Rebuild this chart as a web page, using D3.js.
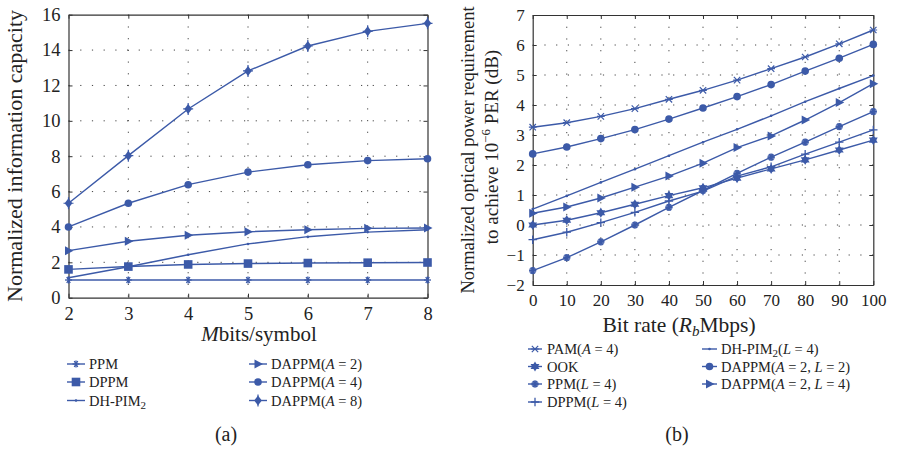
<!DOCTYPE html>
<html>
<head>
<meta charset="utf-8">
<script src="https://cdn.jsdelivr.net/npm/d3@7"></script>
<style>
  html, body { margin: 0; padding: 0; background: #fff; }
  svg { display: block; font-family: "Liberation Serif", "DejaVu Serif", serif; }
  .tick text { fill: #222; }
</style>
</head>
<body>
<svg id="chart" width="897" height="449"></svg>
<script>
// ---- (a) Normalized information capacity vs bits per symbol ----
const mBits = [2, 3, 4, 5, 6, 7, 8];
const capPPM    = [1, 1, 1, 1, 1, 1, 1];
const capDPPM   = [1.6, 1.76, 1.88, 1.93, 1.96, 1.98, 1.99];
const capDHPIM  = [1.13, 1.75, 2.43, 3.04, 3.45, 3.71, 3.84];
const capDAPPM2 = [2.66, 3.19, 3.53, 3.73, 3.84, 3.92, 3.94];
const capDAPPM4 = [4.0, 5.34, 6.39, 7.1, 7.52, 7.75, 7.86];
const capDAPPM8 = [5.34, 8.03, 10.67, 12.82, 14.23, 15.06, 15.51];
const capTicksX = [2, 3, 4, 5, 6, 7, 8];
const capTicksY = [0, 2, 4, 6, 8, 10, 12, 14, 16];

// ---- (b) Normalized optical power requirement vs bit rate ----
const bitRate = [0, 10, 20, 30, 40, 50, 60, 70, 80, 90, 100];
const pwrPAM     = [3.26, 3.41, 3.62, 3.88, 4.19, 4.49, 4.83, 5.21, 5.6, 6.04, 6.5];
const pwrOOK     = [0, 0.16, 0.41, 0.69, 0.98, 1.24, 1.56, 1.87, 2.17, 2.5, 2.83];
const pwrPPM     = [-1.52, -1.09, -0.56, 0, 0.59, 1.15, 1.72, 2.26, 2.76, 3.28, 3.78];
const pwrDPPM    = [-0.49, -0.24, 0.08, 0.42, 0.8, 1.13, 1.63, 1.94, 2.36, 2.76, 3.17];
const pwrDHPIM   = [0.53, 0.97, 1.42, 1.86, 2.31, 2.76, 3.19, 3.64, 4.11, 4.55, 4.98];
const pwrDAPPM22 = [2.37, 2.6, 2.88, 3.18, 3.53, 3.9, 4.28, 4.68, 5.13, 5.56, 6.02];
const pwrDAPPM24 = [0.39, 0.6, 0.9, 1.26, 1.63, 2.06, 2.58, 2.97, 3.5, 4.08, 4.71];
const pwrTicksX = [0, 10, 20, 30, 40, 50, 60, 70, 80, 90, 100];
const pwrTicksY = [-2, -1, 0, 1, 2, 3, 4, 5, 6, 7];

const BLUE = "#3c5aa8";
const svg = d3.select("#chart");

// Marker painters: each draws a glyph centred at (0,0) inside group g
const markers = {
  asterisk(g) {
    const r = 3.5;
    [0, 60, 120].forEach(a => {
      const t = a * Math.PI / 180;
      g.append("line").attr("x1", -r * Math.cos(t)).attr("y1", -r * Math.sin(t))
        .attr("x2", r * Math.cos(t)).attr("y2", r * Math.sin(t))
        .attr("stroke", BLUE).attr("stroke-width", 1.3);
    });
    g.append("line").attr("x1", 0).attr("y1", -r).attr("x2", 0).attr("y2", r)
      .attr("stroke", BLUE).attr("stroke-width", 1.3);
  },
  cross(g) {
    const r = 3.2;
    g.append("path").attr("d", `M${-r},${-r}L${r},${r}M${-r},${r}L${r},${-r}M${-r*1.2},0L${r*1.2},0`)
      .attr("stroke", BLUE).attr("stroke-width", 1.2).attr("fill", "none");
  },
  plus(g) {
    const r = 4.2;
    g.append("path").attr("d", `M${-r},0L${r},0M0,${-r}L0,${r}`)
      .attr("stroke", BLUE).attr("stroke-width", 1.3).attr("fill", "none");
  },
  dot(g) {
    g.append("circle").attr("r", 1.3).attr("fill", BLUE);
  },
  square(g) {
    g.append("rect").attr("x", -4.3).attr("y", -4.3).attr("width", 8.6).attr("height", 8.6).attr("fill", BLUE);
  },
  circle(g) {
    g.append("circle").attr("r", 3.8).attr("fill", BLUE);
  },
  triangle(g) {
    g.append("path").attr("d", "M5,0L-3.5,-4.5L-3.5,4.5Z").attr("fill", BLUE);
  },
  diamond(g) {
    g.append("path").attr("d", "M0,-5L3.8,0L0,5L-3.8,0Z").attr("fill", BLUE);
    g.append("path").attr("d", "M-5,0L5,0M0,-6L0,6").attr("stroke", BLUE).attr("stroke-width", 1.2);
  },
  star(g) {
    const p = d3.symbol(d3.symbolTriangle, 34)();
    g.append("path").attr("d", p).attr("fill", BLUE);
    g.append("path").attr("d", p).attr("fill", BLUE).attr("transform", "rotate(180)");
    g.append("circle").attr("r", 2.8).attr("fill", BLUE);
  },
  ringStar(g) {
    g.append("circle").attr("r", 3.6).attr("fill", BLUE).attr("opacity", 0.75);
    markers.asterisk(g);
  }
};

function panel(opts) {
  const { x0, x1, y0, y1, xDomain, yDomain, xTicks, yTicks, series, xs, fontTick } = opts;
  const x = d3.scaleLinear().domain(xDomain).range([x0, x1]);
  const y = d3.scaleLinear().domain(yDomain).range([y1, y0]);
  const g = svg.append("g");
  const fmt = d3.format("d");

  // dotted grid
  g.append("g").selectAll("line.vg").data(xTicks.slice(1, -1)).join("line")
    .attr("x1", d => x(d)).attr("x2", d => x(d)).attr("y1", y0).attr("y2", y1)
    .attr("stroke", "#444").attr("stroke-width", 1).attr("stroke-dasharray", "1.2,10.5");
  g.append("g").selectAll("line.hg").data(yTicks.slice(1, -1)).join("line")
    .attr("x1", x0).attr("x2", x1).attr("y1", d => y(d)).attr("y2", d => y(d))
    .attr("stroke", "#444").attr("stroke-width", 1).attr("stroke-dasharray", "1.2,10.5");

  // axes with inward ticks on all four sides
  const axB = g.append("g").attr("transform", `translate(0,${y1})`)
    .call(d3.axisBottom(x).tickValues(xTicks).tickFormat(fmt).tickSize(-4).tickPadding(9).tickSizeOuter(0));
  const axT = g.append("g").attr("transform", `translate(0,${y0})`)
    .call(d3.axisTop(x).tickValues(xTicks).tickSize(-4).tickFormat("").tickSizeOuter(0));
  const axL = g.append("g").attr("transform", `translate(${x0},0)`)
    .call(d3.axisLeft(y).tickValues(yTicks).tickFormat(fmt).tickSize(-4).tickPadding(8).tickSizeOuter(0));
  const axR = g.append("g").attr("transform", `translate(${x1},0)`)
    .call(d3.axisRight(y).tickValues(yTicks).tickSize(-4).tickFormat("").tickSizeOuter(0));
  [axB, axT, axL, axR].forEach(a => {
    a.select(".domain").attr("stroke", "#333").attr("stroke-width", 1.2);
    a.selectAll(".tick line").attr("stroke", "#333");
    a.selectAll(".tick text").attr("font-size", fontTick)
      .attr("font-family", "Liberation Serif, serif").attr("fill", "#222");
  });

  // series
  const line = d3.line().x(d => x(d[0])).y(d => y(d[1]));
  series.forEach(s => {
    const pts = xs.map((v, i) => [v, s.values[i]]);
    g.append("path").datum(pts).attr("d", line)
      .attr("fill", "none").attr("stroke", BLUE).attr("stroke-width", 1.4);
    pts.forEach(p => {
      const mg = g.append("g").attr("transform", `translate(${x(p[0])},${y(p[1])})`);
      markers[s.marker](mg);
    });
  });
  return { x, y };
}

// Panel (a)
const seriesA = [
  { name: "PPM", values: capPPM, marker: "asterisk" },
  { name: "DPPM", values: capDPPM, marker: "square" },
  { name: "DH-PIM", sub: "2", values: capDHPIM, marker: "dot" },
  { name: "DAPPM(", it: "A", rest: " =  2)", values: capDAPPM2, marker: "triangle" },
  { name: "DAPPM(", it: "A", rest: " =  4)", values: capDAPPM4, marker: "circle" },
  { name: "DAPPM(", it: "A", rest: " =  8)", values: capDAPPM8, marker: "diamond" }
];
panel({
  x0: 68.5, x1: 427.5, y0: 14.7, y1: 297.7,
  xDomain: [2, 8], yDomain: [0, 16], xTicks: capTicksX, yTicks: capTicksY,
  series: seriesA, xs: mBits, fontTick: 18.5
});

// Panel (b)
const seriesB = [
  { name: "PAM(", it: "A", rest: " =  4)", values: pwrPAM, marker: "cross" },
  { name: "OOK", values: pwrOOK, marker: "star" },
  { name: "PPM(", it: "L", rest: " =  4)", values: pwrPPM, marker: "ringStar" },
  { name: "DPPM(", it: "L", rest: " =  4)", values: pwrDPPM, marker: "plus" },
  { name: "DH-PIM", sub: "2", tail: "(", it: "L", rest: " =  4)", values: pwrDHPIM, marker: "dot" },
  { name: "DAPPM(", it: "A", rest: " =  2, ", it2: "L", rest2: " =  2)", values: pwrDAPPM22, marker: "circle" },
  { name: "DAPPM(", it: "A", rest: " =  2, ", it2: "L", rest2: " =  4)", values: pwrDAPPM24, marker: "triangle" }
];
panel({
  x0: 532.7, x1: 873.3, y0: 15, y1: 285,
  xDomain: [0, 100], yDomain: [-2, 7], xTicks: pwrTicksX, yTicks: pwrTicksY,
  series: seriesB, xs: bitRate, fontTick: 17
});

// axis titles
svg.append("text").attr("transform", "translate(22,156) rotate(-90)")
  .attr("text-anchor", "middle").attr("font-size", 22).attr("fill", "#222")
  .text("Normalized information capacity");
const xa = svg.append("text").attr("x", 259).attr("y", 341).attr("text-anchor", "middle")
  .attr("font-size", 21).attr("fill", "#222");
xa.append("tspan").attr("font-style", "italic").text("M");
xa.append("tspan").text("bits/symbol");

svg.append("text").attr("transform", "translate(474,150) rotate(-90)")
  .attr("text-anchor", "middle").attr("font-size", 18.5).attr("fill", "#222")
  .text("Normalized optical power requirement");
const yb2 = svg.append("text").attr("transform", "translate(498,147) rotate(-90)")
  .attr("text-anchor", "middle").attr("font-size", 19).attr("fill", "#222");
yb2.append("tspan").text("to achieve 10");
yb2.append("tspan").attr("font-size", 13).attr("dy", -8).text("\u22126");
yb2.append("tspan").attr("dy", 8).text(" PER (dB)");

const xb = svg.append("text").attr("x", 679).attr("y", 332).attr("text-anchor", "middle")
  .attr("font-size", 21.5).attr("fill", "#222");
xb.append("tspan").text("Bit rate (");
xb.append("tspan").attr("font-style", "italic").text("R");
xb.append("tspan").attr("font-style", "italic").attr("font-size", 15).attr("dy", 4).text("b");
xb.append("tspan").attr("dy", -4).text("Mbps)");

// legends
function legendEntry(s, lx, ly, lineLen, textGap) {
  const g = svg.append("g");
  g.append("line").attr("x1", lx).attr("x2", lx + lineLen).attr("y1", ly).attr("y2", ly)
    .attr("stroke", BLUE).attr("stroke-width", 1.4);
  const mg = g.append("g").attr("transform", `translate(${lx + lineLen / 2},${ly})`);
  markers[s.marker](mg);
  const t = g.append("text").attr("x", lx + lineLen + textGap).attr("y", ly + 5)
    .attr("font-size", 14.5).attr("fill", "#222");
  t.append("tspan").text(s.name);
  if (s.sub) {
    t.append("tspan").attr("font-size", 11).attr("dy", 3).text(s.sub);
    t.append("tspan").attr("dy", -3).text(s.tail || "");
  }
  if (s.it) {
    t.append("tspan").attr("font-style", "italic").text(s.it);
    t.append("tspan").text(s.rest);
  }
  if (s.it2) {
    t.append("tspan").attr("font-style", "italic").text(s.it2);
    t.append("tspan").text(s.rest2);
  }
}
const legARows = [364, 382, 400.5];
seriesA.slice(0, 3).forEach((s, i) => legendEntry(s, 67, legARows[i], 18, 4));
seriesA.slice(3).forEach((s, i) => legendEntry(s, 249, legARows[i], 18, 4));

const legBRows = [349, 366.5, 384, 402];
seriesB.slice(0, 4).forEach((s, i) => legendEntry(s, 528, legBRows[i], 14, 5));
seriesB.slice(4).forEach((s, i) => legendEntry(s, 702, legBRows[i], 15, 4));

// sub-figure captions
svg.append("text").attr("x", 226).attr("y", 441).attr("text-anchor", "middle")
  .attr("font-size", 20).attr("fill", "#222").text("(a)");
svg.append("text").attr("x", 677).attr("y", 441).attr("text-anchor", "middle")
  .attr("font-size", 20).attr("fill", "#222").text("(b)");
</script>
</body>
</html>
